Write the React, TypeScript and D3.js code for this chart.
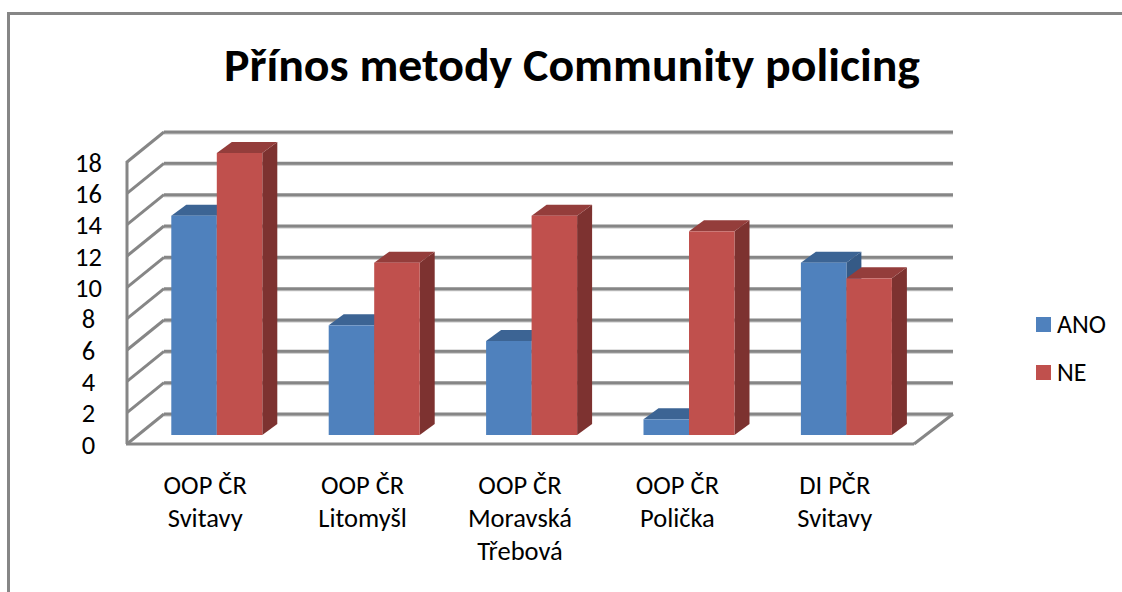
import React from "react";
import * as d3 from "d3";

const categories = [
  ["OOP ČR", "Svitavy"],
  ["OOP ČR", "Litomyšl"],
  ["OOP ČR", "Moravská", "Třebová"],
  ["OOP ČR", "Polička"],
  ["DI PČR", "Svitavy"],
];
const ano = [14, 7, 6, 1, 11];
const ne = [18, 11, 14, 13, 10];
const yTicks = [0, 2, 4, 6, 8, 10, 12, 14, 16, 18];
const seriesNames = ["ANO", "NE"];
const title = "Přínos metody Community policing";

const FONT = "Carlito, Calibri, Lato, 'Open Sans', sans-serif";
const GRID = "#868686";
const GRID_LIGHT = "#c4c4c4";

const y = d3.scaleLinear().domain([0, 18]).range([444, 162]);
const x = d3.scaleBand<number>().domain(d3.range(5)).range([127, 914]).paddingInner(0).paddingOuter(0);
const wallDx = 37;
const wallDy = -30;
const barDx = 15;
const barDy = -11;
const barLift = -9;
const groupW = x.bandwidth();
const barW = 45.5;
const groupOffset = 44.3;

const poly = (pts: number[][]) => d3.line()(pts as [number, number][]) + "Z";

function Bar({ x0, value, front, top, side }: { x0: number; value: number; front: string; top: string; side: string }) {
  const yt = y(value) + barLift;
  const yb = y(0) + barLift;
  const x1 = x0 + barW;
  return (
    <g>
      <path d={poly([[x1, yt], [x1 + barDx, yt + barDy], [x1 + barDx, yb + barDy], [x1, yb]])} fill={side} />
      <path d={poly([[x0, yt], [x0 + barDx, yt + barDy], [x1 + barDx, yt + barDy], [x1, yt]])} fill={top} />
      <rect x={x0} y={yt} width={barW} height={yb - yt} fill={front} />
    </g>
  );
}

export default function App() {
  return (
    <svg
      width={1122}
      height={592}
      style={{ position: "absolute", left: 0, top: 0, background: "#fff", fontFamily: FONT }}
    >
      <path d="M8.5 592V13.5H1122" fill="none" stroke={GRID} strokeWidth={3} />
      <text x={572} y={81} textAnchor="middle" fontSize={47} fontWeight={700} fill="#000" textLength={696} lengthAdjust="spacingAndGlyphs">
        {title}
      </text>

      {yTicks.map((t) => (
        <g key={t}>
          <line x1={127 + wallDx} x2={127 + wallDx + 789} y1={y(t) + wallDy + 1.5} y2={y(t) + wallDy + 1.5} stroke={GRID_LIGHT} strokeWidth={2} />
          <line x1={127 + wallDx} x2={127 + wallDx + 789} y1={y(t) + wallDy} y2={y(t) + wallDy} stroke={GRID} strokeWidth={3} />
          <line x1={127} x2={127 + wallDx} y1={y(t)} y2={y(t) + wallDy} stroke={GRID} strokeWidth={3} />
          <text x={88.5} y={y(t) + 9.5} textAnchor="middle" fontSize={26.5} fill="#000">
            {t}
          </text>
        </g>
      ))}
      <line x1={127} x2={127} y1={y(18) - 1} y2={y(0)} stroke={GRID} strokeWidth={3} />
      <line x1={126} x2={914} y1={y(0)} y2={y(0)} stroke={GRID} strokeWidth={3} />
      <line x1={914} x2={914 + wallDx + 2} y1={y(0)} y2={y(0) + wallDy} stroke={GRID} strokeWidth={3} />

      {categories.map((_, i) => {
        const bx = (x(i) as number) + groupOffset;
        return (
          <g key={i}>
            <Bar x0={bx} value={ano[i]} front="#4f81bd" top="#3c6494" side="#355a86" />
            <Bar x0={bx + barW} value={ne[i]} front="#c0504d" top="#943d3b" side="#7d3230" />
          </g>
        );
      })}

      {categories.map((lines, i) => (
        <text key={i} textAnchor="middle" fontSize={26.5} fill="#000">
          {lines.map((l, j) => (
            <tspan key={j} x={(x(i) as number) + groupW / 2 - 0.5} y={494 + j * 33}>
              {l}
            </tspan>
          ))}
        </text>
      ))}

      {seriesNames.map((n, i) => (
        <g key={n}>
          <rect x={1036} y={317 + i * 48} width={15} height={15} fill={i === 0 ? "#4f81bd" : "#c0504d"} />
          <text x={1057} y={333 + i * 48} fontSize={26} fill="#000">
            {n}
          </text>
        </g>
      ))}
    </svg>
  );
}
